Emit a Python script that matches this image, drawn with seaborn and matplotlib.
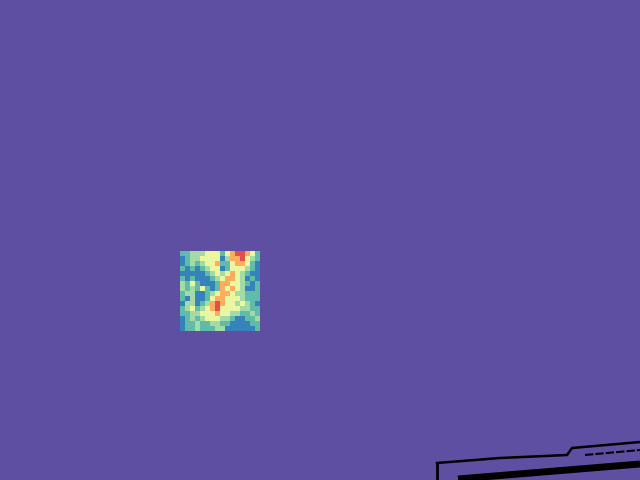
import numpy as np
import matplotlib
matplotlib.use("Agg")
import matplotlib.pyplot as plt
import seaborn as sns

# colour levels read from the small patch (Spectral: 0 = red, 1 = purple)
B, T, G, Y, O, R = 0.91, 0.81, 0.71, 0.58, 0.3, 0.14

patch_rows = [
    [T, T, G, G, G, Y, Y, Y,   T, Y, O, R, R, O, Y, T],
    [B, T, G, G, Y, Y, Y, Y,   B, G, O, O, R, Y, G, T],
    [B, T, G, T, G, Y, Y, O,   T, T, Y, O, O, Y, T, B],
    [T, B, T, B, T, G, Y, Y,   B, T, Y, Y, Y, G, T, B],
    [B, B, B, B, B, T, G, Y,   G, Y, O, Y, G, T, B, B],
    [T, B, T, B, B, B, T, G,   Y, O, O, Y, G, B, T, B],
    [G, T, Y, T, B, B, B, T,   O, O, Y, Y, G, T, B, T],
    [G, T, G, T, Y, T, B, T,   O, Y, O, Y, G, B, B, T],
    [T, G, G, B, B, T, G, Y,   O, O, Y, G, G, T, T, T],
    [T, B, G, B, B, T, Y, O,   O, Y, Y, Y, G, T, T, T],
    [B, G, G, B, T, G, O, R,   O, Y, Y, G, Y, G, T, B],
    [T, G, Y, T, G, Y, O, R,   Y, Y, Y, Y, G, G, T, T],
    [T, T, G, G, Y, Y, Y, O,   Y, Y, G, G, T, T, G, T],
    [B, T, G, T, G, Y, Y, Y,   G, G, T, B, B, T, T, G],
    [B, T, T, G, T, T, G, G,   T, T, B, B, B, B, T, T],
    [B, T, T, G, T, T, T, G,   G, B, B, B, B, B, B, T],
]
background_value = 1.0

# black strokes in the lower right corner (pixel coordinates)
upper_x = [437, 500, 567, 572, 640]
upper_y = [463, 458, 455, 448, 442]
second_x = [585, 640]
second_y = [455, 450]
edge_x = [437, 437]
edge_y = [463, 480]
band_x = [458, 640]
band_y = [479, 464]

grid = np.array(patch_rows)
cmap = plt.get_cmap("Spectral")

fig = plt.figure(figsize=(6.4, 4.8), dpi=100)
ax = fig.add_axes([0, 0, 1, 1])
ax.set_facecolor(cmap(background_value))
ax.set_xlim(0, 640)
ax.set_ylim(480, 0)
ax.set_xticks([])
ax.set_yticks([])
for s in ax.spines.values():
    s.set_visible(False)

ax.plot(upper_x, upper_y, color="black", lw=1.8)
ax.plot(second_x, second_y, color="black", lw=1.5, ls=(0, (4, 1)))
ax.plot(edge_x, edge_y, color="black", lw=2)
ax.plot(band_x, band_y, color="black", lw=5, solid_capstyle="butt")

hax = fig.add_axes([180 / 640, 1 - 331 / 480, 80 / 640, 80 / 480])
sns.heatmap(grid, cmap=cmap, vmin=0, vmax=1, cbar=False,
            xticklabels=False, yticklabels=False, ax=hax)

fig.savefig("out.png", dpi=100)
